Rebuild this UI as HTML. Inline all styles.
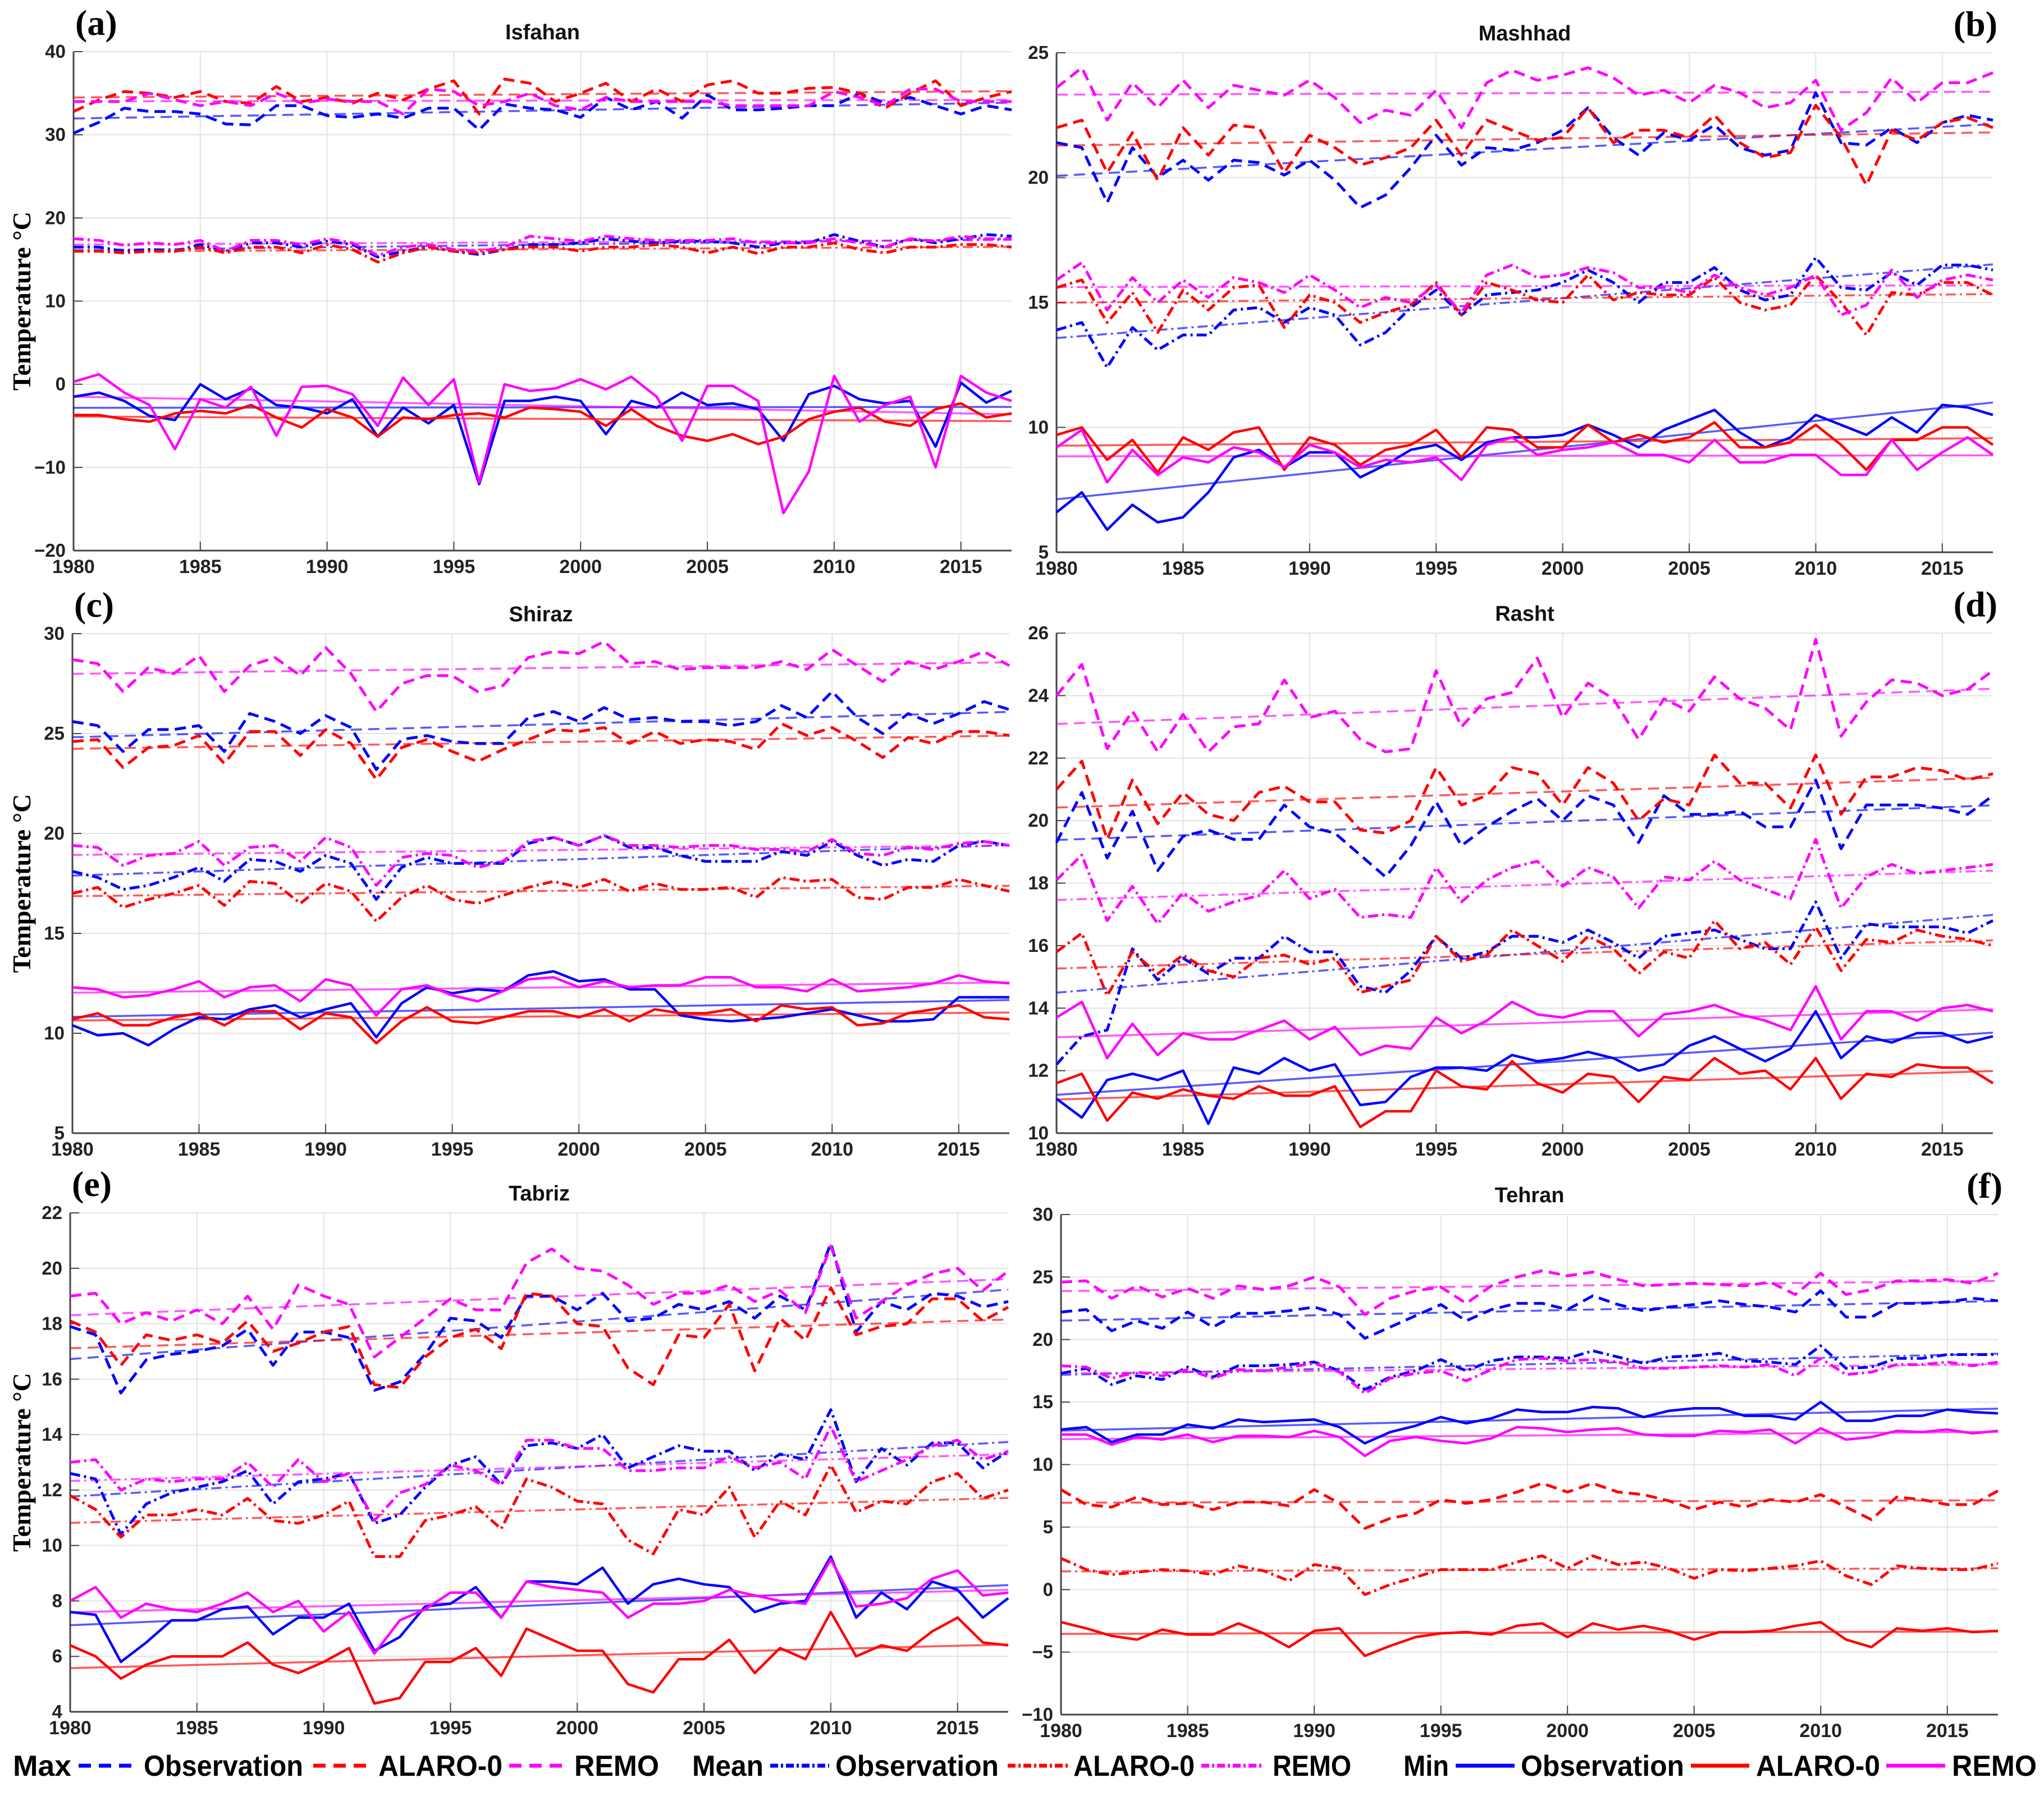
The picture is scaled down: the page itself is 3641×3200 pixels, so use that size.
<!DOCTYPE html>
<html><head><meta charset="utf-8">
<style>
html,body{margin:0;padding:0;background:#fff;}
svg{display:block;}
text{font-family:"Liberation Sans",Arial,sans-serif;}
</style></head>
<body>
<svg id="fig" width="3641" height="3200" viewBox="0 0 3641 3200" xmlns="http://www.w3.org/2000/svg">
<rect x="0" y="0" width="3641" height="3200" fill="#fff"/>
<g id="legend"></g>
</svg>
<script>
// ---- Data: years 1980-2017 ----
const firstYear = 1980;
const lastYear = 2017;
const xTickYears = [1980,1985,1990,1995,2000,2005,2010,2015];

// Isfahan (a)
const aMaxObs=[30.2,31.5,33.2,32.8,32.8,32.5,31.3,31.2,33.5,33.5,32.3,32.1,32.5,32.0,33.2,33.2,30.6,33.7,33.2,33.0,32.1,34.5,33.0,34.0,32.0,34.8,33.0,33.0,33.2,33.5,33.5,35.0,33.8,34.5,33.5,32.5,33.5,33.0];
const aMaxAlaro=[32.8,34.2,35.2,35.0,34.5,35.2,34.0,33.8,35.8,34.0,34.5,33.8,35.0,34.2,35.5,36.5,32.5,36.7,36.2,34.0,35.0,36.2,34.0,35.5,34.0,36.0,36.5,35.0,35.0,35.6,35.7,35.0,33.2,35.0,36.5,33.5,34.5,35.2];
const aMaxRemo=[34.0,34.0,34.0,35.0,34.2,33.5,34.0,33.5,35.0,33.8,34.3,34.0,34.0,32.5,35.5,35.2,33.5,34.0,35.0,33.5,33.0,34.5,34.0,34.0,34.0,34.0,33.5,33.5,33.5,33.5,35.2,34.5,33.5,35.5,35.5,34.0,34.0,34.0];
const aMeanObs=[16.5,16.5,16.0,16.2,16.0,16.8,16.0,17.0,17.0,16.5,17.2,16.8,15.3,16.0,16.5,16.0,15.6,16.2,16.8,16.8,17.0,17.5,17.2,17.0,17.2,17.2,17.0,16.5,17.0,17.0,18.0,17.2,16.5,17.5,17.0,17.5,18.0,17.8];
const aMeanAlaro=[16.0,16.0,15.8,16.0,16.0,16.5,15.8,16.5,16.5,15.8,16.8,16.2,14.7,15.8,16.5,16.0,15.8,16.2,16.5,16.5,16.0,16.5,16.5,16.8,16.5,15.8,16.5,15.7,16.5,16.5,17.0,16.2,15.8,16.5,16.5,16.8,16.8,16.5];
const aMeanRemo=[17.5,17.3,16.7,17.0,16.8,17.3,16.0,17.3,17.3,16.8,17.5,17.0,15.5,16.5,16.8,16.2,16.0,16.5,17.8,17.5,17.2,17.8,17.5,17.3,17.3,17.3,17.5,17.0,17.0,17.0,17.5,17.0,16.5,17.5,17.2,17.8,17.5,17.5];
const aMinObs=[-1.5,-1.0,-2.0,-3.8,-4.3,0.0,-1.8,-0.5,-2.5,-2.8,-3.5,-1.8,-6.3,-2.8,-4.7,-2.5,-12.0,-2.0,-2.0,-1.5,-2.0,-6.0,-2.0,-2.8,-1.0,-2.5,-2.3,-3.0,-6.8,-1.2,-0.2,-1.8,-2.3,-2.0,-7.5,0.2,-2.2,-0.8];
const aMinAlaro=[-3.7,-3.7,-4.2,-4.5,-3.5,-3.2,-3.5,-2.5,-4.0,-5.2,-3.0,-4.0,-6.3,-4.0,-4.2,-3.7,-3.5,-4.0,-2.8,-3.0,-3.3,-5.0,-3.0,-5.0,-6.2,-6.8,-6.0,-7.2,-6.3,-4.2,-3.3,-2.8,-4.5,-5.0,-3.0,-2.3,-4.0,-3.5];
const aMinRemo=[0.3,1.2,-1.0,-2.5,-7.8,-1.8,-2.8,-0.3,-6.2,-0.3,-0.2,-1.2,-5.0,0.8,-2.5,0.6,-11.8,0.0,-0.8,-0.5,0.6,-0.6,0.9,-1.5,-6.8,-0.2,-0.2,-2.0,-15.5,-10.5,1.0,-4.5,-2.5,-1.5,-10.0,1.0,-1.0,-2.0];
const aTicks=[-20,-10,0,10,20,30,40];

// Mashhad (b)
const bMaxObs=[21.4,21.2,19.0,21.2,20.0,20.7,19.9,20.7,20.6,20.1,20.7,19.9,18.8,19.3,20.4,21.7,20.5,21.2,21.1,21.4,21.9,22.8,21.6,20.9,21.8,21.5,22.1,21.2,20.9,21.1,23.4,21.4,21.3,22.0,21.4,22.2,22.5,22.3];
const bMaxAlaro=[22.0,22.3,20.2,21.8,19.9,22.0,20.9,22.1,22.0,20.2,21.7,21.2,20.5,20.8,21.2,22.3,20.9,22.3,21.9,21.5,21.6,22.8,21.4,21.9,21.9,21.6,22.5,21.4,20.8,21.0,22.9,21.6,19.7,21.9,21.5,22.2,22.4,22.0];
const bMaxRemo=[23.6,24.4,22.3,23.8,22.8,23.9,22.8,23.7,23.5,23.3,23.9,23.2,22.2,22.7,22.5,23.5,22.0,23.8,24.3,23.9,24.1,24.4,24.0,23.3,23.5,23.0,23.7,23.4,22.8,23.0,23.9,21.9,22.6,24.0,23.0,23.8,23.8,24.2];
const bMeanObs=[13.9,14.2,12.4,14.0,13.1,13.7,13.7,14.7,14.8,14.2,14.8,14.5,13.3,13.8,14.8,15.5,14.5,15.3,15.4,15.5,15.8,16.3,15.8,15.0,15.8,15.8,16.4,15.5,15.1,15.3,16.8,15.6,15.5,16.2,15.7,16.5,16.5,16.3];
const bMeanAlaro=[15.6,15.9,14.2,15.4,13.8,15.5,14.7,15.6,15.7,14.0,15.3,15.0,14.2,14.6,14.9,15.8,14.5,15.8,15.5,15.1,15.0,16.1,15.1,15.4,15.3,15.3,16.0,15.0,14.7,14.9,16.1,15.0,13.7,15.4,15.3,15.8,15.8,15.3];
const bMeanRemo=[15.9,16.6,14.7,16.0,15.0,15.9,15.2,16.0,15.8,15.4,16.1,15.5,14.8,15.2,15.0,15.7,14.6,16.1,16.5,16.0,16.1,16.4,16.2,15.6,15.6,15.4,16.1,15.6,15.3,15.6,16.1,14.5,14.9,16.3,15.2,15.9,16.1,15.9];
const bMinObs=[6.6,7.4,5.9,6.9,6.2,6.4,7.4,8.8,9.1,8.4,9.0,9.0,8.0,8.5,9.1,9.3,8.7,9.4,9.6,9.6,9.7,10.1,9.7,9.2,9.9,10.3,10.7,9.8,9.2,9.6,10.5,10.1,9.7,10.4,9.8,10.9,10.8,10.5];
const bMinAlaro=[9.7,10.0,8.7,9.5,8.2,9.6,9.1,9.8,10.0,8.3,9.6,9.3,8.5,9.1,9.3,9.9,8.8,10.0,9.9,9.2,9.2,10.1,9.4,9.7,9.4,9.6,10.2,9.2,9.2,9.4,10.1,9.3,8.3,9.5,9.5,10.0,10.0,9.3];
const bMinRemo=[9.2,9.9,7.8,9.1,8.1,8.8,8.6,9.2,9.0,8.4,9.3,9.0,8.4,8.7,8.6,8.8,7.9,9.3,9.6,8.9,9.1,9.2,9.4,8.9,8.9,8.6,9.5,8.6,8.6,8.9,8.9,8.1,8.1,9.5,8.3,9.0,9.6,8.9];
const bTicks=[5,10,15,20,25];

// Shiraz (c)
const cMaxObs=[25.6,25.4,24.1,25.2,25.2,25.4,24.1,26.0,25.6,25.0,25.9,25.3,23.2,24.7,24.9,24.6,24.5,24.5,25.8,26.1,25.6,26.3,25.7,25.8,25.6,25.6,25.4,25.6,26.4,25.8,27.1,25.8,25.0,26.0,25.5,26.0,26.6,26.2];
const cMaxAlaro=[24.6,24.7,23.3,24.3,24.4,24.9,23.5,25.1,25.1,23.9,25.2,24.5,22.7,24.3,24.7,24.1,23.6,24.2,24.7,25.2,25.1,25.3,24.5,25.1,24.5,24.7,24.6,24.2,25.5,24.9,25.3,24.6,23.8,24.8,24.5,25.1,25.1,24.9];
const cMaxRemo=[28.7,28.5,27.1,28.3,28.0,28.9,27.1,28.4,28.8,27.9,29.3,28.0,26.1,27.5,27.9,27.9,27.1,27.4,28.8,29.1,29.0,29.6,28.5,28.6,28.2,28.3,28.3,28.3,28.6,28.2,29.2,28.4,27.6,28.6,28.2,28.6,29.1,28.4];
const cMeanObs=[18.1,17.8,17.2,17.4,17.8,18.3,17.6,18.7,18.6,18.1,18.9,18.5,16.7,18.3,18.8,18.5,18.5,18.5,19.5,19.8,19.4,19.9,19.3,19.3,18.9,18.6,18.6,18.6,19.1,18.9,19.6,18.9,18.4,18.7,18.6,19.4,19.6,19.4];
const cMeanAlaro=[17.0,17.3,16.3,16.7,17.0,17.4,16.4,17.6,17.5,16.5,17.5,17.1,15.6,16.8,17.4,16.7,16.5,16.9,17.3,17.6,17.3,17.7,17.1,17.5,17.2,17.2,17.3,16.8,17.8,17.6,17.7,16.8,16.7,17.3,17.3,17.7,17.4,17.1];
const cMeanRemo=[19.4,19.3,18.4,18.9,19.0,19.6,18.4,19.3,19.4,18.6,19.8,19.3,17.4,18.8,19.0,18.9,18.3,18.6,19.6,19.8,19.4,19.9,19.4,19.4,19.3,19.4,19.4,19.2,19.2,19.1,19.7,19.0,18.9,19.3,19.2,19.5,19.6,19.4];
const cMinObs=[10.4,9.9,10.0,9.4,10.2,10.8,10.7,11.2,11.4,10.8,11.2,11.5,9.8,11.5,12.3,12.0,12.2,12.1,12.9,13.1,12.6,12.7,12.2,12.2,10.9,10.7,10.6,10.7,10.8,11.0,11.2,10.9,10.6,10.6,10.7,11.8,11.8,11.8];
const cMinAlaro=[10.7,11.0,10.4,10.4,10.8,11.0,10.4,11.1,11.1,10.2,11.0,10.8,9.5,10.6,11.3,10.6,10.5,10.8,11.1,11.1,10.8,11.2,10.6,11.2,11.0,11.0,11.2,10.6,11.4,11.2,11.3,10.4,10.5,11.0,11.2,11.4,10.8,10.7];
const cMinRemo=[12.3,12.2,11.8,11.9,12.2,12.6,11.8,12.3,12.4,11.6,12.7,12.4,10.9,12.2,12.4,11.9,11.6,12.1,12.7,12.8,12.3,12.6,12.3,12.4,12.4,12.8,12.8,12.3,12.3,12.1,12.7,12.1,12.2,12.3,12.5,12.9,12.6,12.5];
const cTicks=[5,10,15,20,25,30];

// Rasht (d)
const dMaxObs=[19.3,20.9,18.8,20.3,18.4,19.5,19.7,19.4,19.4,20.5,19.8,19.6,18.9,18.2,19.2,20.6,19.2,19.8,20.3,20.7,20.0,20.8,20.5,19.3,20.8,20.2,20.2,20.3,19.8,19.8,21.3,19.1,20.5,20.5,20.5,20.4,20.2,20.8];
const dMaxAlaro=[21.0,21.9,19.4,21.3,19.9,20.9,20.2,20.0,20.9,21.1,20.6,20.6,19.7,19.6,20.0,21.7,20.5,20.8,21.7,21.5,20.5,21.7,21.2,20.0,20.7,20.5,22.1,21.2,21.2,20.4,22.1,20.2,21.4,21.4,21.7,21.6,21.3,21.5];
const dMaxRemo=[24.0,25.0,22.3,23.5,22.2,23.4,22.2,23.0,23.1,24.5,23.3,23.5,22.6,22.2,22.3,24.8,23.0,23.9,24.1,25.2,23.3,24.4,23.9,22.6,23.9,23.5,24.6,23.9,23.6,22.9,25.8,22.7,23.8,24.5,24.4,24.0,24.2,24.8];
const dMeanObs=[12.2,13.1,13.3,15.9,14.9,15.6,15.1,15.6,15.6,16.3,15.8,15.8,14.7,14.5,15.2,16.3,15.6,15.8,16.3,16.3,16.1,16.5,16.1,15.6,16.3,16.4,16.5,16.2,15.9,15.9,17.4,15.6,16.7,16.6,16.6,16.6,16.4,16.8];
const dMeanAlaro=[15.8,16.4,14.4,15.8,15.1,15.7,15.2,15.0,15.6,15.7,15.4,15.6,14.5,14.7,14.9,16.3,15.5,15.7,16.5,16.0,15.5,16.3,15.9,15.1,15.8,15.6,16.8,15.9,16.1,15.4,16.6,15.2,16.2,16.1,16.5,16.3,16.2,16.0];
const dMeanRemo=[18.1,18.9,16.8,17.9,16.7,17.7,17.1,17.4,17.6,18.4,17.5,17.8,16.9,17.0,16.9,18.5,17.4,18.1,18.5,18.7,17.9,18.5,18.2,17.2,18.2,18.1,18.7,18.1,17.8,17.5,19.4,17.2,18.2,18.6,18.3,18.4,18.5,18.6];
const dMinObs=[11.1,10.5,11.7,11.9,11.7,12.0,10.3,12.1,11.9,12.4,12.0,12.2,10.9,11.0,11.8,12.1,12.1,12.0,12.5,12.3,12.4,12.6,12.4,12.0,12.2,12.8,13.1,12.7,12.3,12.7,13.9,12.4,13.1,12.9,13.2,13.2,12.9,13.1];
const dMinAlaro=[11.6,11.9,10.4,11.3,11.1,11.4,11.2,11.1,11.5,11.2,11.2,11.5,10.2,10.7,10.7,12.0,11.5,11.4,12.3,11.6,11.3,11.9,11.8,11.0,11.8,11.7,12.4,11.9,12.0,11.4,12.4,11.1,11.9,11.8,12.2,12.1,12.1,11.6];
const dMinRemo=[13.7,14.2,12.4,13.5,12.5,13.2,13.0,13.0,13.3,13.6,13.0,13.4,12.5,12.8,12.7,13.7,13.2,13.6,14.2,13.8,13.7,13.9,13.9,13.1,13.8,13.9,14.1,13.8,13.6,13.3,14.7,13.0,13.9,13.9,13.6,14.0,14.1,13.9];
const dTicks=[10,12,14,16,18,20,22,24,26];

// Tabriz (e)
const eMaxObs=[17.9,17.6,15.5,16.7,16.9,17.0,17.2,17.8,16.5,17.7,17.7,17.5,15.6,15.9,16.9,18.2,18.1,17.5,19.0,19.0,18.5,19.1,18.1,18.2,18.7,18.5,18.8,18.2,19.0,18.5,20.9,17.7,18.8,18.5,19.1,19.0,18.6,18.8];
const eMaxAlaro=[18.1,17.7,16.5,17.6,17.4,17.6,17.3,18.1,17.0,17.3,17.7,17.9,15.8,15.7,16.8,17.5,17.8,17.1,19.1,19.0,18.0,17.9,16.4,15.8,17.6,17.5,18.7,16.3,18.2,17.4,19.3,17.6,17.9,18.0,18.9,18.9,18.1,18.6];
const eMaxRemo=[19.0,19.1,18.0,18.4,18.1,18.5,18.0,19.0,17.8,19.4,19.0,18.7,16.8,17.5,18.2,18.9,18.5,18.5,20.2,20.7,20.0,19.9,19.4,18.7,19.1,19.1,19.4,18.8,19.2,18.4,20.8,18.2,18.8,19.4,19.8,20.0,19.2,19.9];
const eMeanObs=[12.6,12.4,10.4,11.5,11.9,12.1,12.3,12.7,11.5,12.3,12.4,12.6,10.8,11.1,12.1,12.9,13.2,12.2,13.6,13.7,13.5,14.0,12.8,13.2,13.6,13.4,13.4,12.7,13.3,13.1,14.9,12.3,13.5,12.9,13.7,13.7,12.8,13.4];
const eMeanAlaro=[11.8,11.3,10.3,11.1,11.1,11.3,11.1,11.7,10.9,10.8,11.1,11.6,9.6,9.6,10.9,11.1,11.4,10.6,12.4,12.1,11.6,11.5,10.2,9.7,11.3,11.1,12.1,10.3,11.6,11.1,12.9,11.2,11.6,11.5,12.3,12.6,11.7,12.0];
const eMeanRemo=[13.0,13.1,12.0,12.4,12.3,12.4,12.4,13.0,12.1,13.1,12.3,12.6,10.9,11.9,12.2,12.9,12.7,12.2,13.8,13.8,13.5,13.5,12.7,12.7,12.8,12.8,13.2,12.8,13.0,12.4,14.3,12.3,12.7,13.1,13.6,13.8,13.1,13.4];
const eMinObs=[7.6,7.5,5.8,6.5,7.3,7.3,7.7,7.8,6.8,7.4,7.4,7.9,6.2,6.7,7.8,7.9,8.5,7.4,8.7,8.7,8.6,9.2,7.9,8.6,8.8,8.6,8.5,7.6,7.9,8.0,9.6,7.4,8.3,7.7,8.7,8.4,7.4,8.1];
const eMinAlaro=[6.4,6.0,5.2,5.7,6.0,6.0,6.0,6.5,5.7,5.4,5.8,6.3,4.3,4.5,5.8,5.8,6.3,5.3,7.0,6.6,6.2,6.2,5.0,4.7,5.9,5.9,6.6,5.4,6.3,5.9,7.6,6.0,6.4,6.2,6.9,7.4,6.5,6.4];
const eMinRemo=[8.0,8.5,7.4,7.9,7.7,7.6,7.9,8.3,7.6,8.0,6.9,7.6,6.1,7.3,7.7,8.3,8.3,7.4,8.7,8.5,8.4,8.3,7.4,7.9,7.9,8.0,8.4,8.2,8.0,7.9,9.5,7.8,7.9,8.1,8.8,9.1,8.2,8.3];
const eTicks=[4,6,8,10,12,14,16,18,20,22];

// Tehran (f)
const fMaxObs=[22.2,22.4,20.7,21.5,20.9,22.2,21.0,22.1,22.1,22.3,22.6,22.0,20.1,21.0,21.9,22.8,21.5,22.4,22.9,22.9,22.4,23.5,22.8,22.3,22.6,22.8,23.1,22.8,22.6,22.2,23.9,21.8,21.8,22.9,22.9,23.0,23.3,23.1];
const fMaxAlaro=[8.0,6.8,6.6,7.4,6.8,6.9,6.4,7.0,7.0,6.7,8.0,6.9,4.9,5.7,6.1,7.2,6.9,7.2,7.8,8.5,7.8,8.5,7.8,7.6,7.1,6.4,7.0,6.6,7.2,7.0,7.6,6.6,5.6,7.4,7.2,6.8,6.8,7.9];
const fMaxRemo=[24.6,24.7,23.3,24.3,23.4,24.1,23.3,24.3,24.0,24.3,25.0,24.2,22.0,23.3,23.9,24.2,22.9,24.3,25.0,25.5,25.1,25.4,24.8,24.3,24.4,24.5,24.4,24.3,24.6,23.6,25.3,23.6,24.0,24.7,24.7,24.8,24.5,25.3];
const fMeanObs=[17.3,17.7,16.4,17.1,16.8,17.8,17.0,17.9,17.9,18.0,18.2,17.5,16.0,17.0,17.5,18.4,17.5,18.3,18.6,18.6,18.5,19.1,18.6,18.1,18.6,18.7,18.9,18.3,18.2,18.0,19.5,17.7,17.8,18.5,18.5,18.8,18.8,18.8];
const fMeanAlaro=[2.5,1.6,1.2,1.4,1.6,1.5,1.2,1.9,1.5,0.7,2.0,1.7,-0.4,0.4,1.0,1.6,1.6,1.6,2.2,2.7,1.7,2.7,2.0,2.2,1.7,0.9,1.6,1.5,1.7,1.9,2.3,1.1,0.4,1.9,1.7,1.6,1.6,2.1];
const fMeanRemo=[17.9,17.8,16.9,17.4,17.1,17.6,16.9,17.6,17.5,17.8,18.1,17.4,15.7,16.9,17.3,17.5,16.7,17.6,18.4,18.5,18.3,18.4,18.2,17.7,17.7,17.8,17.9,17.8,18.0,17.1,18.5,17.2,17.4,18.0,18.0,18.2,17.9,18.2];
const fMinObs=[12.8,13.0,11.8,12.4,12.4,13.2,12.9,13.6,13.4,13.5,13.6,13.0,11.7,12.6,13.1,13.8,13.3,13.7,14.4,14.2,14.2,14.6,14.5,13.8,14.3,14.5,14.5,13.9,13.9,13.6,15.0,13.5,13.5,13.9,13.9,14.4,14.2,14.1];
const fMinAlaro=[-2.6,-3.1,-3.7,-4.0,-3.2,-3.6,-3.6,-2.7,-3.5,-4.6,-3.3,-3.1,-5.3,-4.5,-3.8,-3.5,-3.4,-3.6,-2.9,-2.7,-3.8,-2.7,-3.2,-2.9,-3.3,-4.0,-3.4,-3.4,-3.3,-2.9,-2.6,-4.0,-4.6,-3.1,-3.3,-3.1,-3.4,-3.3];
const fMinRemo=[12.4,12.4,11.6,12.2,12.0,12.4,11.8,12.3,12.3,12.2,12.7,12.2,10.7,11.9,12.2,11.9,11.7,12.1,13.0,12.9,12.6,12.8,12.9,12.4,12.3,12.3,12.7,12.6,12.8,11.7,12.9,12.0,12.2,12.7,12.6,12.8,12.5,12.7];
const fTicks=[-10,-5,0,5,10,15,20,25,30];

const panelNames=["Isfahan","Mashhad","Shiraz","Rasht","Tabriz","Tehran"];
const panelLetters=["(a)","(b)","(c)","(d)","(e)","(f)"];

// ---- Rendering ----
const NS="http://www.w3.org/2000/svg";
const svg=document.getElementById('fig');
function mk(tag,attrs,parent){const e=document.createElementNS(NS,tag);for(const k in attrs)e.setAttribute(k,attrs[k]);(parent||svg).appendChild(e);return e;}

const COL={obs:"#0000ff",alaro:"#ff0000",remo:"#ff00ff"};
const DASH={max:"20,11",mean:"18,7,4,7",min:""};

const panels=[
 {id:"a",L:131,R:1802,T:92,B:981,yMin:-20,yMax:40,ticks:aTicks,ylab:true,letterRight:false,
  s:{max:[aMaxObs,aMaxAlaro,aMaxRemo],mean:[aMeanObs,aMeanAlaro,aMeanRemo],min:[aMinObs,aMinAlaro,aMinRemo]}},
 {id:"b",L:1882,R:3550,T:94,B:984,yMin:5,yMax:25,ticks:bTicks,ylab:false,letterRight:true,
  s:{max:[bMaxObs,bMaxAlaro,bMaxRemo],mean:[bMeanObs,bMeanAlaro,bMeanRemo],min:[bMinObs,bMinAlaro,bMinRemo]}},
 {id:"c",L:129,R:1798,T:1129,B:2019,yMin:5,yMax:30,ticks:cTicks,ylab:true,letterRight:false,
  s:{max:[cMaxObs,cMaxAlaro,cMaxRemo],mean:[cMeanObs,cMeanAlaro,cMeanRemo],min:[cMinObs,cMinAlaro,cMinRemo]}},
 {id:"d",L:1882,R:3550,T:1128,B:2019,yMin:10,yMax:26,ticks:dTicks,ylab:false,letterRight:true,
  s:{max:[dMaxObs,dMaxAlaro,dMaxRemo],mean:[dMeanObs,dMeanAlaro,dMeanRemo],min:[dMinObs,dMinAlaro,dMinRemo]}},
 {id:"e",L:125,R:1796,T:2161,B:3050,yMin:4,yMax:22,ticks:eTicks,ylab:true,letterRight:false,
  s:{max:[eMaxObs,eMaxAlaro,eMaxRemo],mean:[eMeanObs,eMeanAlaro,eMeanRemo],min:[eMinObs,eMinAlaro,eMinRemo]}},
 {id:"f",L:1890,R:3559,T:2164,B:3055,yMin:-10,yMax:30,ticks:fTicks,ylab:false,letterRight:true,
  s:{max:[fMaxObs,fMaxAlaro,fMaxRemo],mean:[fMeanObs,fMeanAlaro,fMeanRemo],min:[fMinObs,fMinAlaro,fMinRemo]}}
];
const srcKeys=["obs","alaro","remo"];

function fit(vals){const n=vals.length;let sx=0,sy=0,sxx=0,sxy=0;for(let i=0;i<n;i++){sx+=i;sy+=vals[i];sxx+=i*i;sxy+=i*vals[i];}
 const b=(n*sxy-sx*sy)/(n*sxx-sx*sx);const a=(sy-b*sx)/n;return [a,a+b*(n-1)];}

panels.forEach((p,pi)=>{
 const g=mk('g',{});
 
 
 const xs=y=>p.L+(y-firstYear)/(lastYear-firstYear)*(p.R-p.L);
 const ys=v=>p.B-(v-p.yMin)/(p.yMax-p.yMin)*(p.B-p.T);
 const grid=mk('g',{},g);
 
 
 xTickYears.forEach(yr=>{mk('line',{x1:xs(yr),x2:xs(yr),y1:p.T,y2:p.B,stroke:"#e3e3e3","stroke-width":2},grid);});
 p.ticks.forEach(t=>{mk('line',{x1:p.L,x2:p.R,y1:ys(t),y2:ys(t),stroke:"#e3e3e3","stroke-width":2},grid);});
 const ax=mk('g',{},g);
 
 
 mk('line',{x1:p.L,x2:p.L,y1:p.T,y2:p.B,stroke:"#444","stroke-width":3},ax);
 mk('line',{x1:p.L,x2:p.R,y1:p.B,y2:p.B,stroke:"#444","stroke-width":3},ax);
 xTickYears.forEach(yr=>{
  mk('line',{x1:xs(yr),x2:xs(yr),y1:p.B,y2:p.B-16,stroke:"#444","stroke-width":2},ax);
  const t=mk('text',{x:xs(yr),y:p.B+40,"font-size":34,"font-weight":"bold","text-anchor":"middle",fill:"#222"},ax);
  
  
  t.textContent=yr;
 });
 p.ticks.forEach(tv=>{
  mk('line',{x1:p.L,x2:p.L+16,y1:ys(tv),y2:ys(tv),stroke:"#444","stroke-width":2},ax);
  const t=mk('text',{x:p.L-14,y:ys(tv)+11,"font-size":33,"font-weight":"bold","text-anchor":"end",fill:"#222"},ax);
  
  
  t.textContent=tv<0?"\u2212"+Math.abs(tv):tv;
 });
 const ti=mk('text',{x:(p.L+p.R)/2,y:p.T-22,"font-size":38,"font-weight":"bold","text-anchor":"middle",fill:"#111"},g);
 
 
 ti.textContent=panelNames[pi];
 const le=mk('text',{x:p.letterRight?p.R+8:p.L+3,y:p.T-30,"font-size":64,"font-weight":"bold",style:"font-family:'Liberation Serif',serif","text-anchor":p.letterRight?"end":"start",fill:"#000"},g);
 
 
 le.textContent=panelLetters[pi];
 if(p.ylab){
  const cy=(p.T+p.B)/2;
  const yl=mk('text',{x:40,y:cy,"font-size":46,"font-weight":"bold",style:"font-family:'Liberation Serif',serif","text-anchor":"middle",transform:`rotate(-90 40 ${cy})`,fill:"#000",dy:14},g);
  
  
  yl.textContent="Temperature \u00B0C";
 }
 ["max","mean","min"].forEach(kind=>{
  p.s[kind].forEach((vals,si)=>{
   const col=COL[srcKeys[si]];
   const tr=fit(vals);
   const tl=mk('line',{x1:xs(firstYear),y1:ys(tr[0]),x2:xs(lastYear),y2:ys(tr[1]),stroke:col,"stroke-width":3.5,"stroke-opacity":0.65},g);
   if(DASH[kind])tl.setAttribute('stroke-dasharray',DASH[kind]);
   
   
  });
 });
 ["max","mean","min"].forEach(kind=>{
  p.s[kind].forEach((vals,si)=>{
   const col=COL[srcKeys[si]];
   const pts=vals.map((v,i)=>xs(firstYear+i).toFixed(1)+","+ys(v).toFixed(1)).join(" ");
   const pl=mk('polyline',{points:pts,fill:"none",stroke:col,"stroke-width":kind==="min"?4.5:5,"stroke-linejoin":"round"},g);
   if(DASH[kind])pl.setAttribute('stroke-dasharray',DASH[kind]);
   
   
  });
 });
});

// ---- Legend ----
const lg=document.getElementById('legend');
const LY=3146;
function ltext(x,w,str){const t=mk('text',{x:x,y:LY+18,"font-size":52,"font-weight":"bold",textLength:w,lengthAdjust:"spacingAndGlyphs",fill:"#000"},lg);
 
 
 t.textContent=str;}
function lline(x1,x2,col,dash){const l=mk('line',{x1:x1,x2:x2,y1:LY,y2:LY,stroke:col,"stroke-width":7},lg);if(dash)l.setAttribute('stroke-dasharray',dash);
 
 }
ltext(23,104,"Max"); lline(140,244,COL.obs,"22,14"); ltext(256,284,"Observation"); lline(558,663,COL.alaro,"22,14"); ltext(674,221,"ALARO-0"); lline(907,1012,COL.remo,"22,14"); ltext(1023,151,"REMO");
ltext(1233,127,"Mean"); lline(1372,1477,COL.obs,"14,5,4,5"); ltext(1488,291,"Observation"); lline(1795,1902,COL.alaro,"14,5,4,5"); ltext(1912,216,"ALARO-0"); lline(2140,2251,COL.remo,"14,5,4,5"); ltext(2267,140,"REMO");
ltext(2500,81,"Min"); lline(2593,2698,COL.obs,""); ltext(2709,291,"Observation"); lline(3012,3116,COL.alaro,""); ltext(3128,221,"ALARO-0"); lline(3360,3465,COL.remo,""); ltext(3477,151,"REMO");
</script>
</body></html>
